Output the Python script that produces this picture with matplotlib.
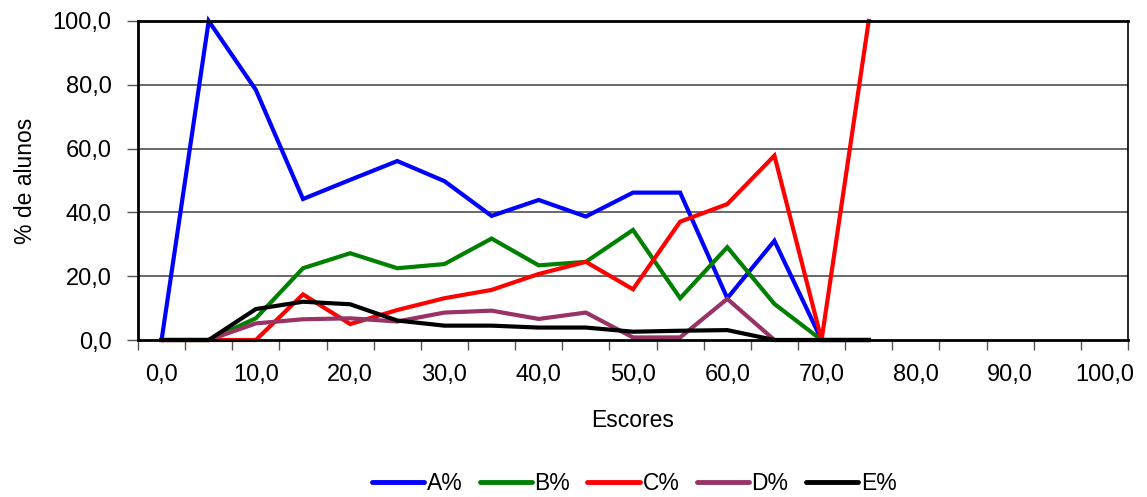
import matplotlib
matplotlib.use("Agg")
import matplotlib.pyplot as plt
import numpy as np

plt.rcParams['font.family'] = ['Liberation Sans', 'DejaVu Sans']

escores = [0, 5, 10, 15, 20, 25, 30, 35, 40, 45, 50, 55, 60, 65, 70, 75]
a_pct = [0, 100, 78.4, 44.2, 50.2, 56.1, 49.8, 38.9, 43.9, 38.7, 46.2, 46.2, 13.1, 31.1, 0, 0]
b_pct = [0, 0, 6.8, 22.5, 27.2, 22.5, 23.8, 31.8, 23.4, 24.5, 34.5, 13.1, 29.1, 11.3, 0, 0]
c_pct = [0, 0, 0, 14.3, 5.0, 9.4, 13.1, 15.7, 20.7, 24.5, 15.9, 37.1, 42.6, 57.8, 0, 100]
d_pct = [0, 0, 5.2, 6.5, 6.8, 5.8, 8.6, 9.2, 6.6, 8.6, 0.8, 0.8, 12.9, 0, 0, 0]
e_pct = [0, 0, 9.7, 12.0, 11.2, 6.1, 4.5, 4.5, 3.9, 3.9, 2.6, 2.9, 3.1, 0, 0, 0]

series = [("A%", a_pct, "#0000FF"), ("B%", b_pct, "#008000"), ("C%", c_pct, "#FF0000"),
          ("D%", d_pct, "#993366"), ("E%", e_pct, "#000000")]

x_labels = [0, 10, 20, 30, 40, 50, 60, 70, 80, 90, 100]

fig = plt.figure(figsize=(11.47, 4.97), dpi=100)
ax = fig.add_axes([138/1147, 1-340/497, (1128-138)/1147, (340-21)/497])

for name, vals, col in series:
    ax.plot(escores, vals, color=col, lw=3.0, label=name, solid_joinstyle='miter', clip_on=False)

ax.set_xlim(-2.5, 102.5)
ax.set_ylim(0, 100)

# category boundaries as tick marks
ax.set_xticks(np.arange(-2.5, 103, 5))
ax.set_xticklabels([])
ax.set_xticks(x_labels, minor=True)
ax.set_xticklabels([f"{v:.1f}".replace('.', ',') for v in x_labels], minor=True, fontsize=17)
ax.tick_params(axis='x', which='major', direction='out', length=7, width=1, color='#555555')
ax.tick_params(axis='x', which='minor', length=0, pad=17)

yt = [0, 20, 40, 60, 80, 100]
ax.set_yticks(yt)
ax.set_yticklabels([f"{v:.1f}".replace('.', ',') for v in yt], fontsize=17)
ax.tick_params(axis='y', direction='out', length=8, width=1, color='#555555', pad=11)

for v in [20, 40, 60, 80]:
    ax.axhline(v, color='#404040', lw=1.1, zorder=0)

for s in ['left', 'bottom', 'top']:
    ax.spines[s].set_linewidth(2.0)
    ax.spines[s].set_color('black')
ax.spines['right'].set_linewidth(1.2)
ax.spines['right'].set_color('black')

ax.set_xlabel("Escores", fontsize=16.5, labelpad=17)
ax.set_ylabel("% de alunos", fontsize=16.5, labelpad=11)

leg = fig.legend(loc='center', bbox_to_anchor=(634/1147, 1-484/497), ncol=5, frameon=False,
                 fontsize=16.5, handlelength=2.3, handletextpad=0.1, columnspacing=0.75)
for h in leg.get_lines():
    h.set_linewidth(3.5)
    h.set_solid_capstyle('round')

fig.savefig("out.png", dpi=100)
